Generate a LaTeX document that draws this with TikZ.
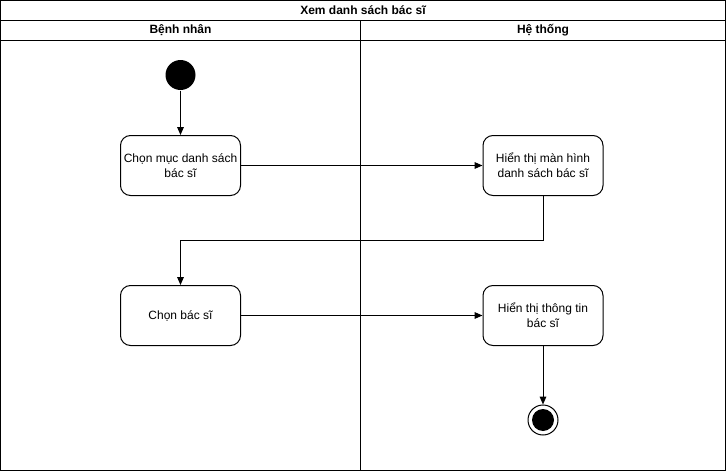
\documentclass[tikz,border=0pt]{standalone}
\usepackage{fontspec}
\setmainfont{Liberation Sans}
\usetikzlibrary{arrows.meta}

\begin{document}
\begin{tikzpicture}[x=0.75pt,y=-0.75pt,line width=0.75pt,font=\fontsize{9pt}{11pt}\selectfont,
    action/.style={draw,rounded corners=7.5pt,minimum width=90pt,minimum height=45pt,align=center,inner sep=1pt},
    initial/.style={circle,fill=black,minimum size=22.5pt,inner sep=0pt},
    final/.style={circle,draw,fill=white,minimum size=22.5pt,inner sep=0pt},
    flow/.style={-{Triangle[length=6pt,width=5pt]}}]
    \useasboundingbox (0,0) rectangle (726,471);

    % swimlanes
    \draw (0.5,0.5) rectangle (725.5,470.5);
    \draw (0.5,20.5) -- (725.5,20.5);
    \draw (0.5,40.5) -- (725.5,40.5);
    \draw (360.5,20.5) -- (360.5,470.5);
    \node[font=\fontsize{9pt}{11pt}\selectfont\bfseries] (title) at (363,10.5) {Xem danh sách bác sĩ};
    \node[font=\fontsize{9pt}{11pt}\selectfont\bfseries] (lane1) at (180.5,30.5) {Bệnh nhân};
    \node[font=\fontsize{9pt}{11pt}\selectfont\bfseries] (lane2) at (543,30.5) {Hệ thống};

    % activities
    \node[initial] (start) at (180.5,75) {};
    \node[action] (chonmuc) at (180.5,165.5) {Chọn mục danh sách\\bác sĩ};
    \node[action] (hienthids) at (543,165.5) {Hiển thị màn hình\\danh sách bác sĩ};
    \node[action] (chonbs) at (180.5,315.5) {Chọn bác sĩ};
    \node[action] (hienthitt) at (543,315.5) {Hiển thị thông tin\\bác sĩ};
    \node[final] (end) at (543,420) {};
    \fill (end) circle (8.25pt);

    % flows
    \draw[flow] (start) -- (chonmuc);
    \draw[flow] (chonmuc) -- (hienthids);
    \draw[flow] (hienthids.south) |- (360,240.5) -| (chonbs.north);
    \draw[flow] (chonbs) -- (hienthitt);
    \draw[flow] (hienthitt) -- (end);
  \end{tikzpicture}
\end{document}
